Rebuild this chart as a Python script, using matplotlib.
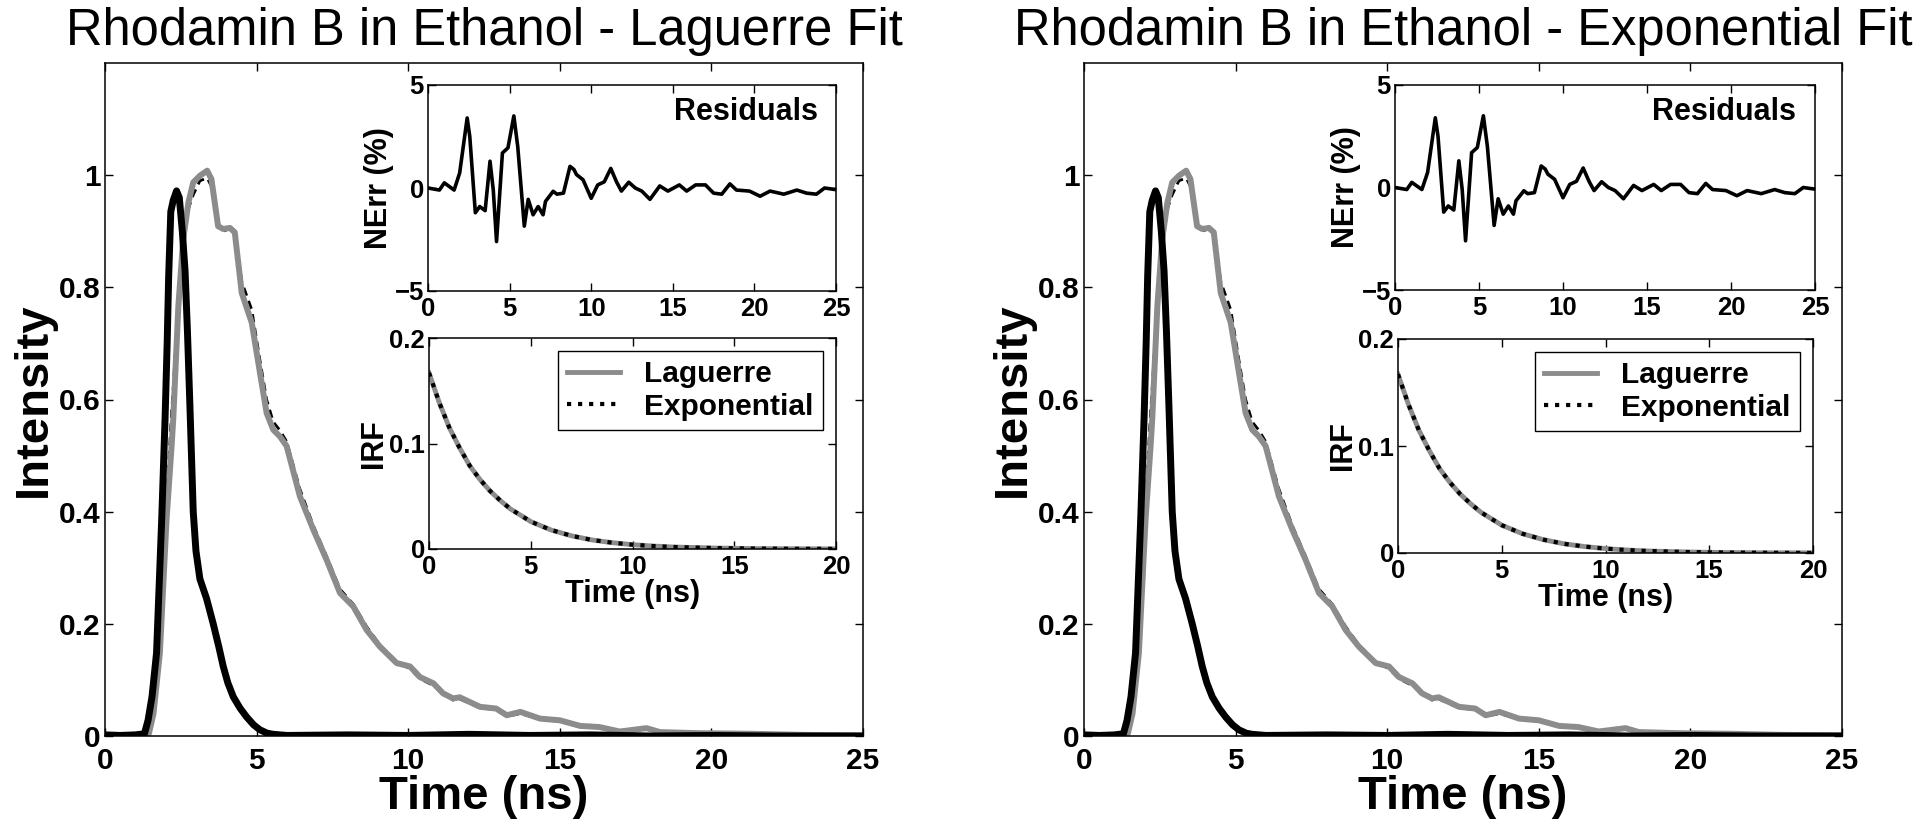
import numpy as np
import matplotlib.pyplot as plt

plt.rcParams['font.family'] = ['Liberation Sans', 'DejaVu Sans']

# ---- data ----

# excitation pulse (thick black line)
pulse_t = [0, 0.5, 1.0, 1.3, 1.42, 1.55, 1.7, 1.87, 1.98, 2.05, 2.1, 2.17, 2.25, 2.36, 2.45,
           2.55, 2.64, 2.72, 2.8, 2.91, 3.0, 3.13, 3.35, 3.57, 3.75, 3.9, 4.05, 4.23, 4.45,
           4.67, 4.9, 5.11, 5.35, 5.55, 6.0, 8, 10, 12, 14, 16, 18, 20, 22, 25]
pulse = [0.002, 0.001, 0.002, 0.004, 0.028, 0.07, 0.148, 0.386, 0.564, 0.70, 0.82, 0.935,
         0.955, 0.972, 0.96, 0.90, 0.83, 0.72, 0.59, 0.40, 0.33, 0.28, 0.245, 0.20, 0.16,
         0.124, 0.095, 0.070, 0.05, 0.034, 0.02, 0.011, 0.005, 0.003, 0.001, 0.002, 0.001,
         0.003, 0.001, 0.002, 0.0, 0.001, 0.0, 0.0]

# fluorescence decay: fit (gray) and measured (dashed)
decay_t = [0, 1.0, 1.45, 1.6, 1.81, 2.03, 2.2, 2.25, 2.42, 2.58, 2.75, 2.91, 3.13, 3.37, 3.51,
           3.73, 3.9, 4.12, 4.28, 4.51, 4.84, 5.11, 5.33, 5.55, 5.77, 5.99, 6.43, 6.87, 7.31,
           7.75, 8.19, 8.63, 9.07, 9.62, 10.06, 10.39, 10.83, 11.15, 11.48, 11.7, 12.37, 12.9,
           13.25, 13.7, 14.35, 15.0, 15.67, 16.3, 16.98, 17.86, 18.3, 19.6, 21.3, 23, 25]
fit_laguerre = [0, 0, 0.005, 0.04, 0.148, 0.386, 0.52, 0.564, 0.767, 0.886, 0.951, 0.987, 0.999,
                1.008, 0.993, 0.909, 0.904, 0.906, 0.898, 0.79, 0.737, 0.648, 0.576, 0.546,
                0.534, 0.517, 0.427, 0.368, 0.314, 0.255, 0.231, 0.189, 0.159, 0.130, 0.124,
                0.105, 0.094, 0.076, 0.067, 0.069, 0.052, 0.049, 0.037, 0.043, 0.031, 0.028,
                0.018, 0.016, 0.008, 0.014, 0.007, 0.005, 0.004, 0.002, 0.001]
measured = [0, 0, 0.004, 0.05, 0.17, 0.42, 0.58, 0.62, 0.78, 0.87, 0.94, 0.965, 0.99, 0.995,
            0.98, 0.91, 0.9, 0.905, 0.9, 0.81, 0.76, 0.67, 0.6, 0.56, 0.545, 0.525, 0.44,
            0.375, 0.32, 0.262, 0.235, 0.195, 0.162, 0.132, 0.12, 0.102, 0.09, 0.078, 0.064,
            0.066, 0.05, 0.047, 0.035, 0.04, 0.03, 0.026, 0.017, 0.015, 0.01, 0.012, 0.006,
            0.004, 0.003, 0.002, 0.001]

# residuals (NErr %)
res_t = [0, 0.7, 1.0, 1.6, 1.94, 2.4, 2.56, 2.9, 3.17, 3.5, 3.8, 4.0, 4.2, 4.56, 4.9, 5.26,
         5.5, 5.9, 6.14, 6.44, 6.75, 7.05, 7.2, 7.67, 7.9, 8.3, 8.7, 8.94, 9.1, 9.5, 10.0,
         10.4, 10.8, 11.2, 11.55, 11.85, 12.3, 12.7, 13.1, 13.6, 14.2, 14.7, 15.4, 15.85,
         16.4, 17.0, 17.5, 18.0, 18.5, 18.9, 19.7, 20.35, 20.96, 21.8, 22.6, 23.2, 23.8,
         24.3, 25]
residuals = [0, -0.1, 0.25, -0.1, 0.73, 3.4, 2.5, -1.2, -0.9, -1.1, 1.3, -0.1, -2.6, 1.7,
             1.95, 3.5, 2.0, -1.85, -0.55, -1.3, -0.9, -1.3, -0.65, -0.16, -0.3, -0.25, 1.05,
             0.9, 0.65, 0.4, -0.5, 0.15, 0.3, 0.95, 0.3, -0.15, 0.28, 0.0, -0.15, -0.55, 0.1,
             -0.15, 0.15, -0.15, 0.15, 0.15, -0.25, -0.3, 0.2, -0.1, -0.15, -0.4, -0.15, -0.3,
             -0.1, -0.25, -0.3, 0.0, -0.08]

# recovered IRF for both methods
irf_t = [0, 0.5, 1, 1.5, 2, 2.5, 3, 3.5, 4, 4.5, 5, 6, 7, 8, 9, 10, 11, 12, 14, 16, 18, 20]
irf_laguerre = [0.167, 0.139, 0.115, 0.096, 0.079, 0.066, 0.055, 0.046, 0.038, 0.032, 0.026,
                0.018, 0.0125, 0.0086, 0.006, 0.0041, 0.0028, 0.0019, 0.0009, 0.0004,
                0.0002, 0.0001]
irf_exponential = [0.167, 0.139, 0.115, 0.096, 0.079, 0.066, 0.055, 0.046, 0.038, 0.032,
                   0.026, 0.018, 0.0125, 0.0086, 0.006, 0.0041, 0.0028, 0.0019, 0.0009,
                   0.0004, 0.0002, 0.0001]

titles = ["Rhodamin B in Ethanol - Laguerre Fit", "Rhodamin B in Ethanol - Exponential Fit"]

GRAY = '#8c8c8c'
W, H = 1920, 832


def px_rect(x0, x1, y0, y1):
    # pixel box (top-left origin) -> figure fraction rect
    return [x0 / W, (H - y1) / H, (x1 - x0) / W, (y1 - y0) / H]


def style_axes(ax, size, pad_x, pad_y):
    for s in ax.spines.values():
        s.set_linewidth(1.1)
    ax.tick_params(direction='in', top=True, right=True, length=6, width=1,
                   labelsize=size)
    ax.tick_params(axis='x', pad=pad_x)
    ax.tick_params(axis='y', pad=pad_y)
    for lab in ax.get_xticklabels() + ax.get_yticklabels():
        lab.set_fontweight('bold')


def draw_panel(fig, main_box, res_box, irf_box, title):
    ax = fig.add_axes(px_rect(*main_box))
    ax.plot(decay_t, measured, color='black', lw=2, ls=(0, (3, 2)))
    ax.plot(decay_t, fit_laguerre, color=GRAY, lw=4.3)
    ax.plot(pulse_t, pulse, color='black', lw=5)
    ax.set_xlim(0, 25)
    ax.set_ylim(0, 1.2)
    ax.set_xticks([0, 5, 10, 15, 20, 25])
    ax.set_yticks([0, 0.2, 0.4, 0.6, 0.8, 1])
    ax.set_yticklabels(['0', '0.2', '0.4', '0.6', '0.8', '1'])
    style_axes(ax, 21.5, 8, 3)
    ax.set_xlabel("Time (ns)", fontsize=34, fontweight='bold', labelpad=0)
    ax.set_ylabel("Intensity", fontsize=34, fontweight='bold', labelpad=2)
    ax.set_title(title, fontsize=36.5, pad=13)

    # residuals inset
    rax = fig.add_axes(px_rect(*res_box))
    rax.plot(res_t, residuals, color='black', lw=2.6)
    rax.set_xlim(0, 25)
    rax.set_ylim(-5, 5)
    rax.set_xticks([0, 5, 10, 15, 20, 25])
    rax.set_yticks([-5, 0, 5])
    style_axes(rax, 18.5, 4, 3)
    rax.set_ylabel("NErr (%)", fontsize=22, fontweight='bold', labelpad=0)
    rax.text(0.955, 0.87, "Residuals", transform=rax.transAxes, ha='right', va='center',
             fontsize=22, fontweight='bold')

    # IRF inset
    iax = fig.add_axes(px_rect(*irf_box))
    iax.plot(irf_t, irf_laguerre, color=GRAY, lw=3.5, label="Laguerre")
    iax.plot(irf_t, irf_exponential, color='black', lw=3, ls=':', label="Exponential")
    iax.set_xlim(0, 20)
    iax.set_ylim(0, 0.2)
    iax.set_xticks([0, 5, 10, 15, 20])
    iax.set_yticks([0, 0.1, 0.2])
    iax.set_yticklabels(['0', '0.1', '0.2'])
    style_axes(iax, 18.5, 4, 3)
    iax.set_xlabel("Time (ns)", fontsize=22, fontweight='bold', labelpad=0)
    iax.set_ylabel("IRF", fontsize=22, fontweight='bold', labelpad=0)
    leg = iax.legend(loc='upper right', fancybox=False, edgecolor='black', framealpha=1,
                     prop={'size': 21.5, 'weight': 'bold'}, handlelength=1.8,
                     handletextpad=0.8, labelspacing=0.15, borderpad=0.3,
                     borderaxespad=0.45)
    leg.get_frame().set_linewidth(1)


fig = plt.figure(figsize=(19.2, 8.32), dpi=100)
draw_panel(fig, (105, 863, 63, 736), (428, 836, 85, 291), (429, 836, 338, 549), titles[0])
draw_panel(fig, (1084, 1842, 63, 736), (1395, 1815, 85, 290), (1398, 1813, 339, 553), titles[1])
fig.savefig("out.png", dpi=100)
